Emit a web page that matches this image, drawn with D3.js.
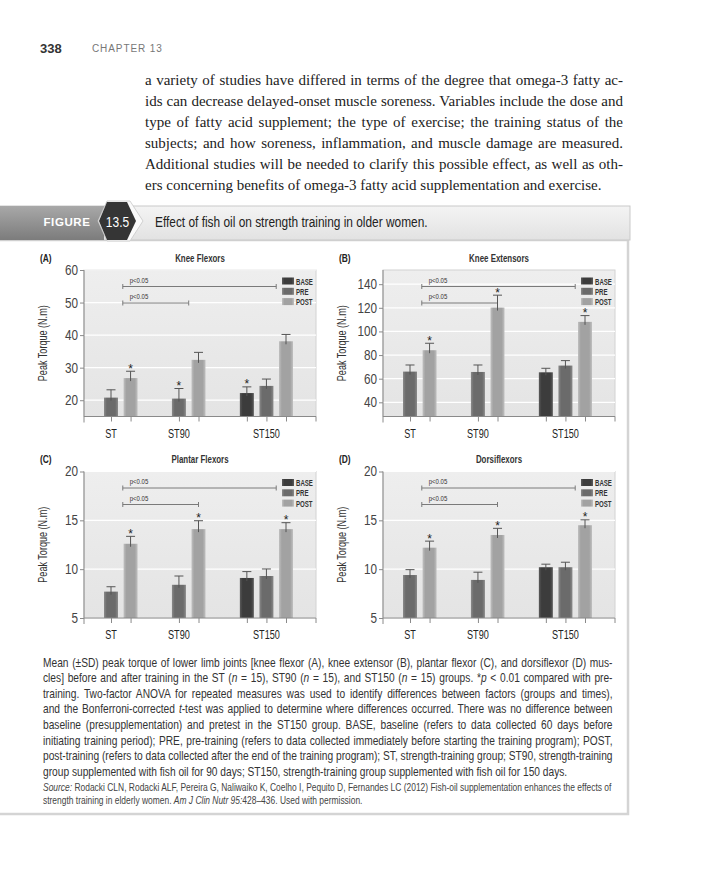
<!DOCTYPE html>
<html lang="en">
<head>
<meta charset="UTF-8">
<title>Figure 13.5 Effect of fish oil on strength training in older women</title>
<script src="https://d3js.org/d3.v7.min.js"></script>
<style>
  body { margin: 0; background: #fff; }
  svg { display: block; }
  .sans { font-family: "Liberation Sans", Arial, sans-serif; }
  .serif { font-family: "Liberation Serif", "DejaVu Serif", serif; }
</style>
</head>
<body>
<svg width="706" height="896"></svg>
<script>
  // groups and time points
  var groups = ["ST", "ST90", "ST150"];
  var times = ["BASE", "PRE", "POST"];

  // (A) knee flexors, one row per group: BASE, PRE, POST
  var flexMean = [[null, 20.8, 26.8], [null, 20.5, 32.4], [22.2, 24.4, 38.1]];
  var flexSD   = [[null, 2.4, 2.1], [null, 3.1, 2.3], [1.9, 2.1, 2.1]];
  var flexStar = [[0, 0, 1], [0, 1, 0], [1, 0, 0]];
  var flexTicks = [20, 30, 40, 50, 60];

  // (B) knee extensors
  var extMean = [[null, 66, 84.1], [null, 65.7, 120.2], [65.4, 71.1, 108.1]];
  var extSD   = [[null, 5.6, 5.9], [null, 5.9, 10.5], [3.4, 4.2, 5.3]];
  var extStar = [[0, 0, 1], [0, 0, 1], [0, 0, 1]];
  var extTicks = [40, 60, 80, 100, 120, 140];

  // (C) plantar flexors
  var plantMean = [[null, 7.7, 12.6], [null, 8.4, 14.1], [9.1, 9.3, 14.1]];
  var plantSD   = [[null, 0.5, 0.76], [null, 0.9, 0.86], [0.65, 0.72, 0.66]];
  var plantStar = [[0, 0, 1], [0, 0, 1], [0, 0, 1]];

  // (D) dorsiflexors
  var dorsMean = [[null, 9.4, 12.2], [null, 8.9, 13.5], [10.2, 10.2, 14.5]];
  var dorsSD   = [[null, 0.55, 0.67], [null, 0.79, 0.68], [0.31, 0.51, 0.55]];
  var dorsStar = [[0, 0, 1], [0, 0, 1], [0, 0, 1]];
  var footTicks = [5, 10, 15, 20];

  // p<0.05 brackets: [from group, to group, anchor at the "to" end]
  var flexBrackets = [["ST", "ST150", "mid"], ["ST", "ST90", "mid"]];
  var otherBrackets = [["ST", "ST150", "mid"], ["ST", "ST90", "POST"]];

  var bodyLines = [
    "a variety of studies have differed in terms of the degree that omega-3 fatty ac-",
    "ids can decrease delayed-onset muscle soreness. Variables include the dose and",
    "type of fatty acid supplement; the type of exercise; the training status of the",
    "subjects; and how soreness, inflammation, and muscle damage are measured.",
    "Additional studies will be needed to clarify this possible effect, as well as oth-",
    "ers concerning benefits of omega-3 fatty acid supplementation and exercise."
  ];

  // caption lines, parts flagged italic with a leading "~"
  var captionLines = [
    ["Mean (\u00b1SD) peak torque of lower limb joints [knee flexor (A), knee extensor (B), plantar flexor (C), and dorsiflexor (D) mus-"],
    ["cles] before and after training in the ST (", "~n", " = 15), ST90 (", "~n", " = 15), and ST150 (", "~n", " = 15) groups. *", "~p", " < 0.01 compared with pre-"],
    ["training. Two-factor ANOVA for repeated measures was used to identify differences between factors (groups and times),"],
    ["and the Bonferroni-corrected ", "~t", "-test was applied to determine where differences occurred. There was no difference between"],
    ["baseline (presupplementation) and pretest in the ST150 group. BASE, baseline (refers to data collected 60 days before"],
    ["initiating training period); PRE, pre-training (refers to data collected immediately before starting the training program); POST,"],
    ["post-training (refers to data collected after the end of the training program); ST, strength-training group; ST90, strength-training"],
    ["group supplemented with fish oil for 90 days; ST150, strength-training group supplemented with fish oil for 150 days."]
  ];
  var sourceLines = [
    ["~Source:", " Rodacki CLN, Rodacki ALF, Pereira G, Naliwaiko K, Coelho I, Pequito D, Fernandes LC (2012) Fish-oil supplementation enhances the effects of"],
    ["strength training in elderly women. ", "~Am J Clin Nutr 95:", "428\u2013436. Used with permission."]
  ];

  var svg = d3.select("svg");
  var defs = svg.append("defs");
  var K = 0.84; // horizontal squeeze to mimic a condensed face

  // text placed with a horizontal squeeze
  function ntext(parent, x, y, str, size, k) {
    return parent.append("text").attr("class", "sans")
      .attr("transform", "translate(" + x + "," + y + ") scale(" + (k || K) + ",1)")
      .attr("font-size", size).text(str);
  }

  // a block of lines: one squeeze for all, word spacing to justify
  function block(lines, x, y0, step, size, cls, target, justify, fill) {
    var nodes = lines.map(function(parts) {
      var t = svg.append("text").attr("class", cls).attr("font-size", size).attr("fill", fill);
      (typeof parts === "string" ? [parts] : parts).forEach(function(s) {
        var it = s.charAt(0) === "~";
        t.append("tspan").attr("font-style", it ? "italic" : null).text(it ? s.slice(1) : s);
      });
      return t;
    });
    var widths = nodes.map(function(t) { return t.node().getComputedTextLength(); });
    var k = d3.min(widths.filter(function(w, i) { return justify[i]; }), function(w) { return target / w; });
    k = Math.min(1, k);
    nodes.forEach(function(t, i) {
      t.attr("transform", "translate(" + x + "," + (y0 + i * step) + ") scale(" + k + ",1)");
      if (justify[i]) {
        var n = (t.node().textContent.match(/ /g) || []).length;
        t.attr("word-spacing", (target / k - widths[i]) / n);
      }
    });
  }

  // bar shading
  var barColors = { BASE: ["#5a5a5a", "#3c3c3c"], PRE: ["#8a8a8a", "#6b6b6b"], POST: ["#c0c0c0", "#a2a2a2"] };
  times.forEach(function(t) {
    var gr = defs.append("linearGradient").attr("id", "bar-" + t);
    [[0, 0], [0.2, 1], [0.8, 1], [1, 0]].forEach(function(s) {
      gr.append("stop").attr("offset", s[0]).attr("stop-color", barColors[t][s[1]]);
    });
  });
  var bg = defs.append("linearGradient").attr("id", "plotbg").attr("x2", 0).attr("y2", 1);
  bg.append("stop").attr("offset", 0).attr("stop-color", "#eeeeee");
  bg.append("stop").attr("offset", 1).attr("stop-color", "#e4e4e4");
  var band = defs.append("linearGradient").attr("id", "band").attr("x2", 0).attr("y2", 1);
  band.append("stop").attr("offset", 0).attr("stop-color", "#f4f4f4");
  band.append("stop").attr("offset", 1).attr("stop-color", "#e2e2e2");
  var dark = defs.append("linearGradient").attr("id", "darkband").attr("x2", 0).attr("y2", 1);
  dark.append("stop").attr("offset", 0).attr("stop-color", "#a8a8a8");
  dark.append("stop").attr("offset", 1).attr("stop-color", "#7c7c7c");

  // page header
  svg.append("text").attr("class", "sans").attr("x", 40).attr("y", 53)
    .attr("font-size", 13).attr("font-weight", "bold").attr("fill", "#333").text("338");
  svg.append("text").attr("class", "sans").attr("x", 92).attr("y", 52)
    .attr("font-size", 10).attr("letter-spacing", 0.9).attr("fill", "#777").text("CHAPTER 13");

  // body text
  block(bodyLines, 145, 84.5, 21, 15, "serif", 478, [1, 1, 1, 1, 1, 0], "#222");

  // figure box
  svg.append("rect").attr("x", -4).attr("y", 240).attr("width", 632).attr("height", 574)
    .attr("fill", "#fff").attr("stroke", "#d4d4d4").attr("stroke-width", 2.5);

  // figure band
  svg.append("rect").attr("x", -4).attr("y", 206).attr("width", 634).attr("height", 34)
    .attr("fill", "url(#band)").attr("stroke", "#c9c9c9").attr("stroke-width", 1);
  svg.append("rect").attr("x", 0).attr("y", 206).attr("width", 104).attr("height", 34)
    .attr("fill", "url(#darkband)");
  svg.append("polygon")
    .attr("points", "98,221 107,201 130,201 143,221 130,241 107,241")
    .attr("fill", "#fafafa").attr("stroke", "#c8c8c8").attr("stroke-width", 0.8);
  svg.append("polygon")
    .attr("points", "99,221 107,202 127,202 136,221 127,240 107,240")
    .attr("fill", "#353535");
  svg.append("text").attr("class", "sans").attr("x", 67).attr("y", 225.5).attr("text-anchor", "middle")
    .attr("font-weight", "bold").attr("font-size", 11.5).attr("letter-spacing", 0.6)
    .attr("fill", "#fff").text("FIGURE");
  ntext(svg, 117.5, 226.5, "13.5", 15, 0.8).attr("text-anchor", "middle").attr("fill", "#fff");
  var head = ntext(svg, 155, 227, "Effect of fish oil on strength training in older women.", 15.5, 1).attr("fill", "#222");
  head.attr("transform", "translate(155,227) scale(" + (273 / head.node().getComputedTextLength()) + ",1)");

  var panels = [
    { letter: "(A)", title: "Knee Flexors", x: 84, y: 270, mean: flexMean, sd: flexSD, star: flexStar,
      domain: [15, 60], ticks: flexTicks, brackets: flexBrackets },
    { letter: "(B)", title: "Knee Extensors", x: 383, y: 270, mean: extMean, sd: extSD, star: extStar,
      domain: [28, 152], ticks: extTicks, brackets: otherBrackets },
    { letter: "(C)", title: "Plantar Flexors", x: 84, y: 471.5, mean: plantMean, sd: plantSD, star: plantStar,
      domain: [5, 20], ticks: footTicks, brackets: otherBrackets },
    { letter: "(D)", title: "Dorsiflexors", x: 383, y: 471.5, mean: dorsMean, sd: dorsSD, star: dorsStar,
      domain: [5, 20], ticks: footTicks, brackets: otherBrackets }
  ];

  var W = 232, H = 146.5, gapUnits = 2.47, barW = 14;

  function drawPanel(p) {
    var g = svg.append("g").attr("class", "sans").attr("transform", "translate(" + p.x + "," + p.y + ")");
    var y = d3.scaleLinear().domain(p.domain).range([H, 0]);

    // lay bars out: each bar one unit, a gap between groups
    var bars = [], u = 0;
    groups.forEach(function(gr, gi) {
      times.forEach(function(t, ti) {
        if (p.mean[gi][ti] == null) return;
        bars.push({ group: gr, time: t, u: u, mean: p.mean[gi][ti], sd: p.sd[gi][ti], star: p.star[gi][ti] });
        u += 1;
      });
      u += gapUnits - 1;
    });
    var x = d3.scaleLinear().domain([0, d3.max(bars, function(d) { return d.u; })]).range([27, W - 30]);
    function barX(gr, t) {
      var b = bars.find(function(d) { return d.group === gr && d.time === t; });
      return x(b.u);
    }

    g.append("rect").attr("width", W).attr("height", H)
      .attr("fill", "url(#plotbg)").attr("stroke", "#d2d2d2").attr("stroke-width", 1);

    g.selectAll(".grid").data(p.ticks).enter().append("line")
      .attr("x1", 0).attr("x2", W)
      .attr("y1", function(d) { return y(d); }).attr("y2", function(d) { return y(d); })
      .attr("stroke", "#fff").attr("stroke-width", 1.2);

    // brackets
    p.brackets.forEach(function(b, i) {
      var x1 = (barX(b[0], "PRE") + barX(b[0], "POST")) / 2 + 2;
      var x2 = b[2] === "mid" ? (barX(b[1], "PRE") + barX(b[1], "POST")) / 2 : barX(b[1], b[2]);
      var yy = 16.5 + i * 16.5;
      g.append("line").attr("x1", x1).attr("x2", x2).attr("y1", yy).attr("y2", yy)
        .attr("stroke", "#7a7a7a").attr("stroke-width", 1);
      [x1, x2].forEach(function(xx) {
        g.append("line").attr("x1", xx).attr("x2", xx).attr("y1", yy - 2.5).attr("y2", yy + 2.5)
          .attr("stroke", "#7a7a7a").attr("stroke-width", 1);
      });
      ntext(g, x1 + 7, yy - 4, "p<0.05", 8, 0.75).attr("fill", "#333");
    });

    // legend
    times.forEach(function(t, i) {
      g.append("rect").attr("x", W - 34).attr("y", 7.5 + i * 10.3).attr("width", 12).attr("height", 7)
        .attr("fill", "url(#bar-" + t + ")");
      ntext(g, W - 20, 14.5 + i * 10.3, t, 9.5, 0.64).attr("font-weight", "bold").attr("fill", "#333");
    });

    // bars
    g.selectAll(".bar").data(bars).enter().append("rect")
      .attr("x", function(d) { return x(d.u) - barW / 2; })
      .attr("y", function(d) { return y(d.mean); })
      .attr("width", barW)
      .attr("height", function(d) { return H - y(d.mean); })
      .attr("fill", function(d) { return "url(#bar-" + d.time + ")"; });

    // error bars
    var eb = g.selectAll(".err").data(bars).enter().append("g");
    eb.append("line")
      .attr("x1", function(d) { return x(d.u); }).attr("x2", function(d) { return x(d.u); })
      .attr("y1", function(d) { return y(d.mean) + 3; }).attr("y2", function(d) { return y(d.mean + d.sd); })
      .attr("stroke", "#555").attr("stroke-width", 1);
    eb.append("line")
      .attr("x1", function(d) { return x(d.u) - 4.5; }).attr("x2", function(d) { return x(d.u) + 4.5; })
      .attr("y1", function(d) { return y(d.mean + d.sd); }).attr("y2", function(d) { return y(d.mean + d.sd); })
      .attr("stroke", "#555").attr("stroke-width", 1);

    g.selectAll(".star").data(bars.filter(function(d) { return d.star; })).enter().append("text")
      .attr("x", function(d) { return x(d.u); })
      .attr("y", function(d) { return y(d.mean + d.sd) + 1.5; })
      .attr("text-anchor", "middle").attr("font-size", 12).attr("fill", "#222").text("*");

    // y axis
    var ya = g.append("g").call(d3.axisLeft(y).tickValues(p.ticks).tickSize(4).tickPadding(3));
    ya.select(".domain").attr("stroke", "#8a8a8a").attr("d", "M0,0V" + (H + 6));
    ya.selectAll(".tick line").attr("stroke", "#8a8a8a");
    ya.selectAll(".tick text").attr("font-size", 14).attr("fill", "#444")
      .attr("font-family", "Liberation Sans, Arial, sans-serif")
      .attr("transform", "scale(" + K + ",1)");

    // x axis: ticks at every bar, labels under PRE
    var xa = g.append("g").attr("transform", "translate(0," + H + ")")
      .call(d3.axisBottom(x).tickValues(bars.map(function(d) { return d.u; })).tickFormat("").tickSize(5));
    xa.select(".domain").attr("stroke", "#8a8a8a").attr("d", "M0,0H" + W + "V5");
    xa.selectAll(".tick line").attr("stroke", "#8a8a8a");

    groups.forEach(function(gr) {
      ntext(g, barX(gr, "PRE"), H + 21, gr, 12, 0.76).attr("text-anchor", "middle").attr("fill", "#222");
    });

    var yl = g.append("text").attr("font-size", 12.5).attr("fill", "#333")
      .attr("text-anchor", "middle").text("Peak Torque (N.m)");
    var kl = 76 / yl.node().getComputedTextLength();
    yl.attr("transform", "translate(-37," + (H / 2) + ") rotate(-90) scale(" + kl + ",1)");

    ntext(g, -44, -8.5, p.letter, 10.5, 0.8).attr("font-weight", "bold").attr("fill", "#222");
    ntext(g, W / 2, -8.5, p.title, 11, 0.72).attr("text-anchor", "middle")
      .attr("font-weight", "bold").attr("fill", "#333");
  }

  panels.forEach(drawPanel);

  // caption
  block(captionLines, 43, 666.5, 15.6, 12.8, "sans", 570, [1, 1, 1, 1, 1, 1, 1, 0], "#333");
  block(sourceLines, 43, 791, 13, 10.4, "sans", 568, [1, 0], "#444");
</script>
</body>
</html>
